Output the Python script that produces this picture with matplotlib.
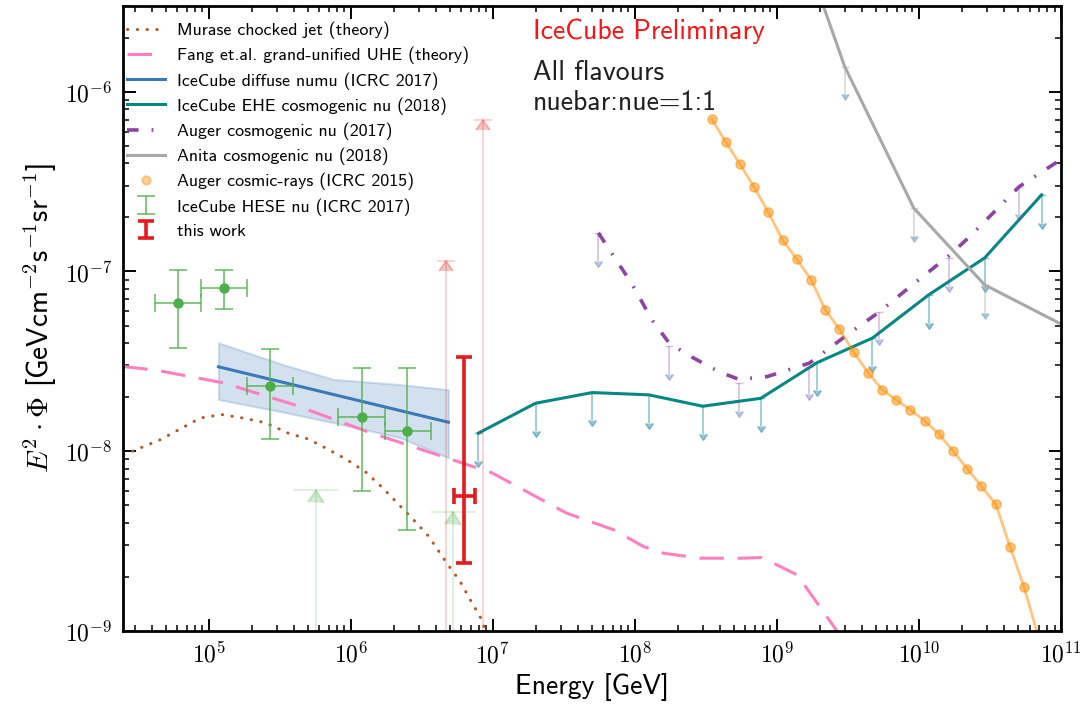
import numpy as np
import matplotlib
matplotlib.use("Agg")
import matplotlib.pyplot as plt
from matplotlib.lines import Line2D
from matplotlib.ticker import FuncFormatter
from matplotlib import markers

plt.rcParams['font.family'] = 'cmss10'
plt.rcParams['mathtext.fontset'] = 'cm'
plt.rcParams['axes.unicode_minus'] = False
plt.rcParams['axes.formatter.use_mathtext'] = True

# Murase chocked jet (theory)
murase_E = [2.51e4, 4.57e4, 8.71e4, 1.23e5, 1.74e5, 2.51e5, 3.63e5, 5.01e5, 6.84e5, 9.33e5,
            1.27e6, 1.68e6, 2.14e6, 2.75e6, 3.52e6, 4.73e6, 5.87e6, 6.90e6, 8.49e6, 9.12e6]
murase_F = [9.55e-9, 1.16e-8, 1.53e-8, 1.60e-8, 1.53e-8, 1.44e-8, 1.26e-8, 1.17e-8, 1.03e-8, 9.0e-9,
            7.67e-9, 6.24e-9, 5.12e-9, 4.17e-9, 3.37e-9, 2.39e-9, 1.89e-9, 1.50e-9, 1.13e-9, 8.9e-10]

# Fang et al. grand-unified UHE (theory)
fang_E = [2.5e4, 4.31e4, 1.27e5, 3.94e5, 1.29e6, 4.73e6, 9.82e6, 3.31e7, 7.05e7, 1.15e8,
          1.58e8, 2.88e8, 5.52e8, 7.85e8, 1.39e9, 2.67e9, 3.0e9]
fang_F = [2.96e-8, 2.82e-8, 2.40e-8, 1.82e-8, 1.29e-8, 9.18e-9, 7.59e-9, 4.52e-9, 3.66e-9, 2.95e-9,
          2.71e-9, 2.54e-9, 2.54e-9, 2.56e-9, 2.05e-9, 9.9e-10, 8.0e-10]

# IceCube diffuse numu (ICRC 2017)
numu_E = [1.17e5, 4.86e6]
numu_F = [2.95e-8, 1.45e-8]
band_E = [1.17e5, 3.35e5, 7.59e5, 2.22e6, 4.86e6]
band_hi = [4.01e-8, 3.03e-8, 2.51e-8, 2.35e-8, 2.20e-8]
band_lo = [1.94e-8, 1.65e-8, 1.44e-8, 1.19e-8, 9.2e-9]

# IceCube EHE cosmogenic nu (2018)
ehe_E = [7.9e6, 2.0e7, 5.0e7, 1.25e8, 3.0e8, 7.7e8, 1.93e9, 4.7e9, 1.17e10, 2.9e10, 7.3e10]
ehe_F = [1.26e-8, 1.85e-8, 2.12e-8, 2.06e-8, 1.78e-8, 1.97e-8, 3.12e-8, 4.26e-8, 7.41e-8, 1.19e-7, 2.67e-7]

# Auger cosmogenic nu (2017)
auger_E = [5.53e7, 9.55e7, 1.32e8, 1.75e8, 2.57e8, 3.98e8, 5.41e8, 8.51e8, 1.69e9, 3.16e9,
           5.26e9, 8.71e9, 1.64e10, 2.29e10, 5.09e10, 1.0e11]
auger_F = [1.64e-7, 8.5e-8, 5.37e-8, 3.98e-8, 3.31e-8, 2.75e-8, 2.51e-8, 2.60e-8, 3.09e-8, 4.47e-8,
           5.96e-8, 8.26e-8, 1.23e-7, 1.57e-7, 2.97e-7, 4.2e-7]
auger_ul_E = [5.53e7, 1.75e8, 5.41e8, 1.69e9, 5.26e9, 1.64e10, 5.09e10]
auger_ul_F = [1.64e-7, 3.83e-8, 2.39e-8, 2.96e-8, 5.98e-8, 1.19e-7, 2.97e-7]

# Anita cosmogenic nu (2018)
anita_E = [2.0e9, 3.0e9, 9.2e9, 2.9e10, 1.0e11]
anita_F = [3.43e-6, 1.38e-6, 2.25e-7, 8.43e-8, 5.1e-8]
anita_ul_E = [3.0e9, 9.2e9, 2.9e10]
anita_ul_F = [1.38e-6, 2.25e-7, 8.43e-8]

# Auger cosmic-rays (ICRC 2015)
cr_E = [3.47e8, 4.37e8, 5.50e8, 6.92e8, 8.71e8, 1.10e9, 1.38e9, 1.74e9, 2.19e9, 2.75e9, 3.47e9, 4.37e9,
        5.50e9, 6.92e9, 8.71e9, 1.10e10, 1.38e10, 1.74e10, 2.19e10, 2.75e10, 3.47e10, 4.37e10, 5.50e10, 6.92e10]
cr_F = [7.05e-7, 5.25e-7, 3.94e-7, 2.94e-7, 2.13e-7, 1.49e-7, 1.17e-7, 9.0e-8, 6.12e-8, 4.78e-8, 3.56e-8, 2.74e-8,
        2.20e-8, 1.93e-8, 1.70e-8, 1.47e-8, 1.25e-8, 1.0e-8, 7.98e-9, 6.37e-9, 5.08e-9, 2.95e-9, 1.75e-9, 9.3e-10]

# IceCube HESE nu (ICRC 2017)
hese_E = [6.05e4, 1.28e5, 2.70e5, 1.19e6, 2.50e6]
hese_Elo = [4.19e4, 8.83e4, 1.85e5, 8.17e5, 1.74e6]
hese_Ehi = [8.83e4, 1.85e5, 3.90e5, 1.74e6, 3.66e6]
hese_F = [6.70e-8, 8.07e-8, 2.31e-8, 1.56e-8, 1.30e-8]
hese_Flo = [3.73e-8, 6.22e-8, 1.17e-8, 5.97e-9, 3.66e-9]
hese_Fhi = [1.02e-7, 1.02e-7, 3.72e-8, 2.92e-8, 2.92e-8]
hese_ul_E = [5.69e5, 5.27e6]
hese_ul_Elo = [3.94e5, 3.67e6]
hese_ul_Ehi = [8.17e5, 7.59e6]
hese_ul_F = [6.12e-9, 4.61e-9]

# faint red limits
prev_E = [4.69e6, 8.57e6]
prev_F = [1.14e-7, 7.0e-7]

# this work
tw_E = [6.30e6]
tw_Elo = [5.33e6]
tw_Ehi = [7.50e6]
tw_F = [5.66e-9]
tw_Flo = [2.39e-9]
tw_Fhi = [3.35e-8]

floor = 1e-10
arrow_frac = 0.30

c_murase = '#b05a2a'
c_fang = '#ff7fbf'
c_numu = '#3a78b8'
c_ehe = '#078783'
c_auger = '#8e44a0'
c_anita = '#a8a8a8'
c_cr = 'darkorange'
c_hese = '#4daf4a'
c_red = '#e41a1c'

fig = plt.figure(figsize=(10.89, 7.12), dpi=100)
ax = fig.add_axes([0.1132, 0.1138, 0.8611, 0.8778])
ax.set_xscale('log')
ax.set_yscale('log')

# theory curves
l_murase, = ax.plot(murase_E, murase_F, color=c_murase, lw=2.2, ls=(0, (0.1, 3.1)),
                    dash_capstyle='round', label='Murase chocked jet (theory)')
l_fang, = ax.plot(fang_E, fang_F, color=c_fang, lw=2.2, ls=(0, (8, 4.5)),
                  label='Fang et.al. grand-unified UHE (theory)')

# numu
ax.fill_between(band_E, band_lo, band_hi, color=c_numu, alpha=0.22, lw=1.5, edgecolor=c_numu)
l_numu, = ax.plot(numu_E, numu_F, color=c_numu, lw=2.2, label='IceCube diffuse numu (ICRC 2017)')

# EHE
l_ehe, = ax.plot(ehe_E, ehe_F, color=c_ehe, lw=2.2, label='IceCube EHE cosmogenic nu (2018)')
ax.errorbar(ehe_E, ehe_F, yerr=np.array(ehe_F) * arrow_frac, uplims=True, fmt='none',
            ecolor=c_ehe, alpha=0.45, elinewidth=1.2, capsize=3)

# Auger cosmogenic
l_auger, = ax.plot(auger_E, auger_F, color=c_auger, lw=2.6, ls=(0, (3.2, 3.6, 0.5, 3.6)),
                   label='Auger cosmogenic nu (2017)')
ax.errorbar(auger_ul_E, auger_ul_F, yerr=np.array(auger_ul_F) * arrow_frac, uplims=True, fmt='none',
            ecolor=c_auger, alpha=0.35, elinewidth=1.2, capsize=3)

# Anita
l_anita, = ax.plot(anita_E, anita_F, color=c_anita, lw=2.2, label='Anita cosmogenic nu (2018)')
ax.errorbar(anita_ul_E, anita_ul_F, yerr=np.array(anita_ul_F) * arrow_frac, uplims=True, fmt='none',
            ecolor=c_anita, alpha=0.45, elinewidth=1.2, capsize=3)

# Auger cosmic rays
ax.plot(cr_E, cr_F, color=c_cr, alpha=0.5, lw=2.0, marker='o', ms=6.5, mew=1.2)

# HESE
hese_xerr = [np.array(hese_E) - np.array(hese_Elo), np.array(hese_Ehi) - np.array(hese_E)]
hese_yerr = [np.array(hese_F) - np.array(hese_Flo), np.array(hese_Fhi) - np.array(hese_F)]
ax.errorbar(hese_E, hese_F, xerr=hese_xerr, yerr=hese_yerr, fmt='none', ecolor=c_hese,
            alpha=0.75, elinewidth=1.3, capsize=6.5, capthick=1.3)
ax.plot(hese_E, hese_F, 'o', color=c_hese, ms=6.5)

ul_xerr = [np.array(hese_ul_E) - np.array(hese_ul_Elo), np.array(hese_ul_Ehi) - np.array(hese_ul_E)]
ax.errorbar(hese_ul_E, hese_ul_F, xerr=ul_xerr, yerr=[np.array(hese_ul_F) - floor, np.zeros(2)],
            fmt='none', ecolor=c_hese, alpha=0.2, elinewidth=1.3)
ax.plot(hese_ul_E, hese_ul_F, ls='none', marker=markers.CARETUP, color=c_hese, alpha=0.25, ms=12, mew=1.5)

# faint red limits
ax.errorbar(prev_E, prev_F, yerr=[np.array(prev_F) - floor, np.zeros(2)], fmt='none',
            ecolor=c_red, alpha=0.2, elinewidth=1.3, capsize=6.5, capthick=1.3)
ax.plot(prev_E, prev_F, ls='none', marker=markers.CARETUP, color=c_red, alpha=0.25, ms=10, mew=1.5)

# this work
tw_xerr = [np.array(tw_E) - np.array(tw_Elo), np.array(tw_Ehi) - np.array(tw_E)]
tw_yerr = [np.array(tw_F) - np.array(tw_Flo), np.array(tw_Fhi) - np.array(tw_F)]
ax.errorbar(tw_E, tw_F, xerr=tw_xerr, yerr=tw_yerr, fmt='none', ecolor=c_red,
            elinewidth=2.6, capsize=6, capthick=2.6)

ax.set_xlim(2.5e4, 1e11)
ax.set_ylim(1e-9, 3e-6)

# legend proxies
p_cr = Line2D([], [], ls='none', marker='o', color=c_cr, alpha=0.4, ms=6, mew=1.5)
p_hese = ax.errorbar([np.nan], [np.nan], yerr=[np.nan], fmt='none', ecolor=c_hese, alpha=0.75,
                     elinewidth=1.3, capsize=6.5, capthick=1.3)
p_tw = ax.errorbar([np.nan], [np.nan], yerr=[np.nan], fmt='none', ecolor=c_red,
                   elinewidth=2.6, capsize=6, capthick=2.6)

handles = [l_murase, l_fang, l_numu, l_ehe, l_auger, l_anita, p_cr, p_hese, p_tw]
labels = ['Murase chocked jet (theory)', 'Fang et.al. grand-unified UHE (theory)',
          'IceCube diffuse numu (ICRC 2017)', 'IceCube EHE cosmogenic nu (2018)',
          'Auger cosmogenic nu (2017)', 'Anita cosmogenic nu (2018)',
          'Auger cosmic-rays (ICRC 2015)', 'IceCube HESE nu (ICRC 2017)', 'this work']
ax.legend(handles, labels, loc='upper left', bbox_to_anchor=(0.004, 0.975), borderaxespad=0,
          borderpad=0, frameon=False, fontsize=12.9, handlelength=2.1, handletextpad=0.7,
          labelspacing=0.43)

ax.text(0.437, 0.96, 'IceCube Preliminary', color='#f01818', fontsize=20,
        transform=ax.transAxes, va='center')
ax.text(0.437, 0.894, 'All flavours', color='#202020', fontsize=20,
        transform=ax.transAxes, va='center')
ax.text(0.437, 0.846, 'nuebar:nue=1:1', color='#202020', fontsize=20,
        transform=ax.transAxes, va='center')

ax.set_xlabel('Energy [GeV]', fontsize=20)
ax.set_ylabel(r'$E^{\mathsf{2}}\cdot\Phi$ [GeVcm$^{\mathsf{-2}}$s$^{\mathsf{-1}}$sr$^{\mathsf{-1}}$]',
              fontsize=21)

decade_fmt = FuncFormatter(lambda v, pos: r'$\mathsf{10^{%d}}$' % int(round(np.log10(v))))
ax.xaxis.set_major_formatter(decade_fmt)
ax.yaxis.set_major_formatter(decade_fmt)

ax.tick_params(which='both', direction='in', top=True, right=True, labelsize=17, pad=8)
ax.tick_params(which='major', length=9, width=1.4)
ax.tick_params(which='minor', length=4.5, width=1.1)
for s in ax.spines.values():
    s.set_linewidth(2.0)

fig.savefig('out.png', dpi=100)
